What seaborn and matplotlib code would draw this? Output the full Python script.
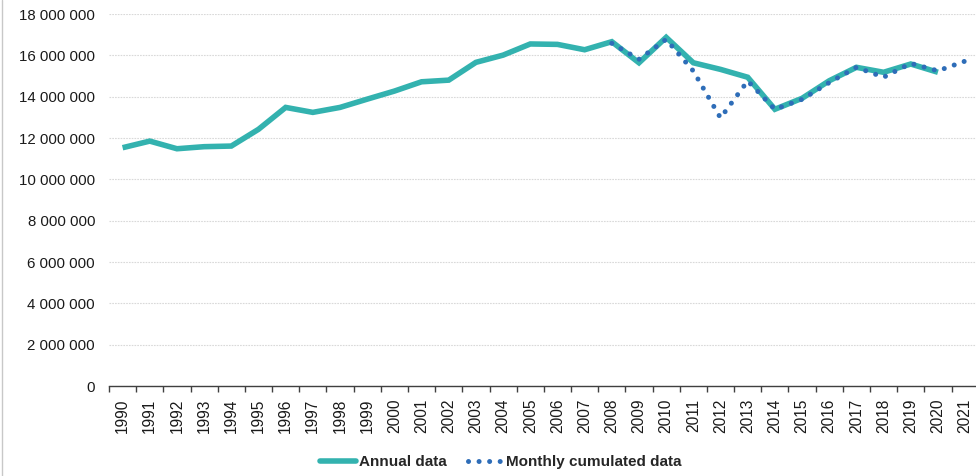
import numpy as np
import pandas as pd
import seaborn as sns
import matplotlib.pyplot as plt
from matplotlib.ticker import FuncFormatter, MultipleLocator, FixedLocator
from matplotlib.lines import Line2D

# annual series, 1990-2020
years = list(range(1990, 2021))
annual = [11.53, 11.85, 11.48, 11.58, 11.61, 12.42, 13.48, 13.24, 13.48, 13.88,
          14.27, 14.72, 14.80, 15.66, 16.01, 16.55, 16.53, 16.27, 16.66, 15.64,
          16.87, 15.64, 15.32, 14.94, 13.39, 13.92, 14.77, 15.42, 15.18, 15.58,
          15.18]

# monthly cumulated series, 2008-2021
monthly_years = list(range(2008, 2022))
monthly = [16.58, 15.81, 16.77, 15.24, 12.97, 14.76, 13.39, 13.87, 14.68, 15.42,
           14.94, 15.61, 15.25, 15.72]

all_years = list(range(1990, 2022))

df_a = pd.DataFrame({"year": years, "value": np.array(annual) * 1e6})
df_m = pd.DataFrame({"year": monthly_years, "value": np.array(monthly) * 1e6})

sns.set_style("white")
plt.rcParams['font.family'] = ['Liberation Sans', 'DejaVu Sans']

teal = "#33B2AF"
blue = "#2E6DB8"
dots = (0, (0.01, 2.1))

fig = plt.figure(figsize=(9.76, 4.76), dpi=100)
ax = fig.add_axes([109 / 976, 1 - 386 / 476, (976 - 109) / 976, 372 / 476])

sns.lineplot(data=df_a, x="year", y="value", ax=ax, color=teal, linewidth=4,
             solid_joinstyle="miter", solid_capstyle="butt", zorder=2)
sns.lineplot(data=df_m, x="year", y="value", ax=ax, color=blue, linewidth=3.6,
             linestyle=dots, dash_capstyle="round", zorder=3)

ax.set_ylim(0, 18e6)
ax.set_xlim(1989.5, 2021.4)
ax.yaxis.set_major_locator(MultipleLocator(2e6))
ax.yaxis.set_major_formatter(FuncFormatter(lambda v, p: f"{int(v):,}".replace(",", " ")))
ax.grid(axis="y", color="#d9d9d9", linestyle=(0, (1.5, 1)), linewidth=0.8)
ax.set_axisbelow(True)

ax.xaxis.set_major_locator(FixedLocator(all_years))
ax.set_xticklabels([str(y) for y in all_years], rotation=90)
ax.xaxis.set_minor_locator(FixedLocator([y - 0.5 for y in all_years] + [2021.5]))
ax.tick_params(axis="x", which="major", length=0, pad=9, labelsize=11.2, labelcolor="#1a1a1a")
ax.tick_params(axis="x", which="minor", length=4, width=1, color="#404040", direction="out", bottom=True)
ax.tick_params(axis="y", length=0, pad=10, labelsize=10.8, labelcolor="#1a1a1a")

ax.set_xlabel("")
ax.set_ylabel("")
for s in ["top", "right", "left"]:
    ax.spines[s].set_visible(False)
ax.spines["bottom"].set_color("#404040")
ax.spines["bottom"].set_linewidth(1)

# chart border on the left edge
fig.add_artist(Line2D([1.5 / 976, 1.5 / 976], [0, 1], color="#c8c8c8", linewidth=1,
                      transform=fig.transFigure))

handles = [Line2D([], [], color=teal, linewidth=4),
           Line2D([], [], color=blue, linewidth=3.6, linestyle=dots,
                  dash_capstyle="round")]
fig.legend(handles, ["Annual data", "Monthly cumulated data"], loc="center",
           bbox_to_anchor=(501 / 976, 1 - 462 / 476), ncol=2, frameon=False,
           prop={"weight": "bold", "size": 11}, handlelength=2.35, handletextpad=0.15,
           columnspacing=1.4)

fig.savefig("out.png", dpi=100, facecolor="white")
